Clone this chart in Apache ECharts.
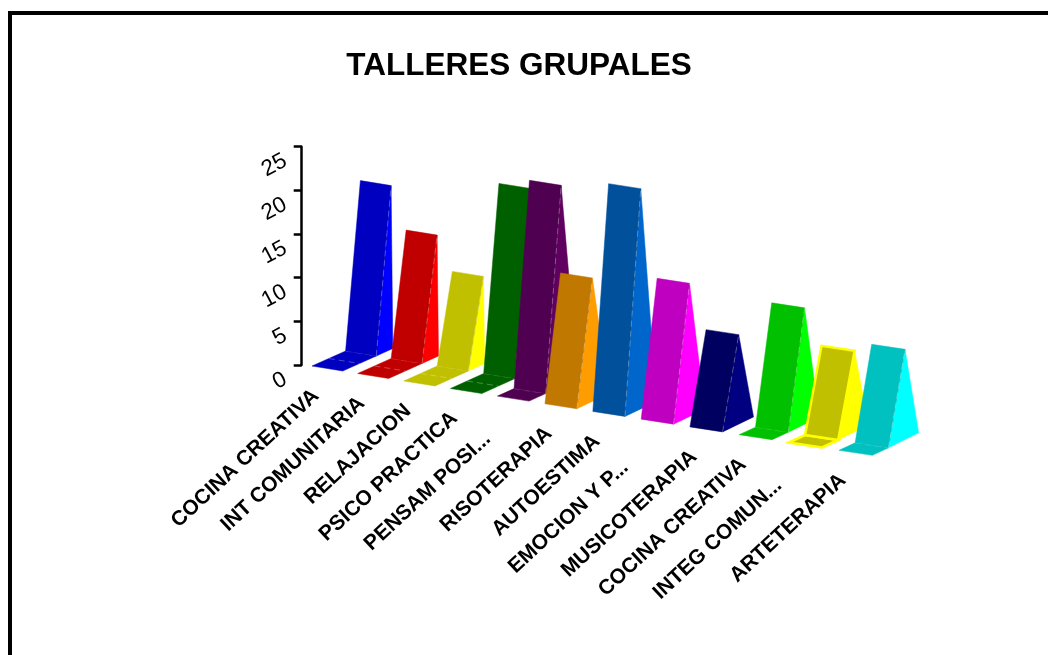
<!DOCTYPE html>
<html><head><meta charset="utf-8">
<style>html,body{margin:0;padding:0;background:#fff;overflow:hidden}#c{width:1048px;height:655px}</style>
<script src="https://cdn.jsdelivr.net/npm/echarts@6/dist/echarts.min.js"></script>
</head><body><div id="c"></div>
<script>
const titleText = 'TALLERES GRUPALES';
const categories = ['COCINA CREATIVA','INT COMUNITARIA','RELAJACION','PSICO PRACTICA','PENSAM POSI...','RISOTERAPIA','AUTOESTIMA','EMOCION Y P...','MUSICOTERAPIA','COCINA CREATIVA','INTEG COMUN...','ARTETERAPIA'];
const values = [20,15,11,22,24,15,26,16,11,14,10,11];
const depthRows = [2,2,2,2,1,0,0,0,0,1,1,1];
const wallColors = ['#0000C0','#C00000','#C0C000','#006000','#500050','#C07800','#00509C','#C000C0','#000060','#00C000','#C0C000','#00C0C0'];
const sideColors = ['#0000FF','#FF0000','#FFFF00','#008000','#600060','#FF9C00','#0066CC','#FF00FF','#000080','#00FF00','#FFFF00','#00FFFF'];
const yTicks = {min:0,max:25,interval:5};
const selectedBar = 10;

const totalRows = 3;
const labelAngle = 42.8*Math.PI/180;
const labelBackShift = {4:19,7:27,10:19};
function poly(points, fill, stroke, lw){
  return {type:'polygon',shape:{points},style:{fill,stroke:stroke||fill,lineWidth:lw===undefined?0.5:lw,lineJoin:'miter'}};
}
function seam(a,b){
  return {type:'line',shape:{x1:a[0],y1:a[1],x2:b[0],y2:b[1]},style:{stroke:'rgba(255,255,255,0.28)',lineWidth:1,lineDash:[6,4]}};
}
function renderItem(params, api){
  const i = params.dataIndex;
  const base = api.coord([i,0]);
  const top = api.coord([i,api.value(1)]);
  const r = depthRows[i];
  // oblique projection of the library's scale positions, with slight perspective
  const fx = base[0] + 0.22*i*(i-11);
  const fy = base[1] + 1 + 7.45*i + 0.02*i*i;
  const wx = 30.7+0.24*i, wy = 5;
  const dx = 16.8-0.06*i, dy = -7.5;
  const h = (base[1]-top[1]) * (8.52+0.04*i)/8.732;
  const lean = 14.8+0.16*i;
  const at = (row,along)=>[fx+row*dx+along*wx, fy+row*dy+along*wy];
  const wallBL = at(r,0), wallBR = at(r,1);
  const topL = [wallBL[0]+lean,wallBL[1]-h], topR = [wallBR[0]+lean,wallBR[1]-h];
  const backRows = Math.min(r+2,totalRows)-r;
  const sideDx = 16.5-0.13*i;
  const back = [wallBR[0]+backRows*sideDx, wallBR[1]+backRows*dy];
  const wall = wallColors[i], side = sideColors[i];
  const sel = i===selectedBar;
  const kids = [];
  kids.push(poly([wallBR,topR,back],side));
  if(r>0){
    if(sel) kids.push(poly([at(0,0),at(0,1),wallBR,wallBL],wall,side,2.5));
    else kids.push(poly([at(0,0),at(0,1),wallBR,wallBL],wall));
    if(!sel) for(let k=1;k<r;k++) kids.push(seam(at(k,0),at(k,1)));
    if(!sel) kids.push(seam(wallBL,wallBR));
  }
  if(sel) kids.push(poly([wallBL,wallBR,topR,topL],wall,side,2.5));
  else { kids.push(poly([wallBL,wallBR,topR,topL],wall)); kids.push(seam(wallBR,topR)); }
  const shift = labelBackShift[i]||0;
  kids.push({type:'text',x:fx+4-shift*Math.cos(labelAngle),y:fy+27+shift*Math.sin(labelAngle),rotation:labelAngle,
    style:{text:categories[i],x:0,y:0,align:'right',verticalAlign:'middle',fill:'#000',
           font:'bold 21px "Liberation Sans", Arial, sans-serif'}});
  return {type:'group',children:kids};
}
const chart = echarts.init(document.getElementById('c'),null,{renderer:'canvas'});
chart.setOption({
  animation:false,
  backgroundColor:'#fff',
  title:{text:titleText,left:514,textAlign:'center',top:45,textStyle:{fontFamily:'"Liberation Sans", Arial',fontWeight:'bold',fontSize:31.5,color:'#000'}},
  grid:{left:312,top:146.7,width:527,height:218.3,containLabel:false},
  xAxis:{type:'category',data:categories,boundaryGap:false,show:false},
  yAxis:{type:'value',min:yTicks.min,max:yTicks.max,interval:yTicks.interval,offset:10.3,
    splitLine:{show:false},
    axisLine:{show:true,lineStyle:{color:'#000',width:2.5}},
    axisTick:{show:true,length:8,lineStyle:{color:'#000',width:2.5}},
    axisLabel:{rotate:28,margin:23,verticalAlign:'top',padding:[3,0,0,0],color:'#000',fontSize:22.5,fontFamily:'"Liberation Sans", Arial'}},
  graphic:[{type:'rect',shape:{x:10,y:13,width:1200,height:900},style:{fill:'none',stroke:'#000',lineWidth:4},silent:true,z:100}],
  series:[{type:'custom',renderItem,clip:false,encode:{x:0,y:1},
    data:categories.map((c,i)=>[c,values[i]])}]
});
</script></body></html>
